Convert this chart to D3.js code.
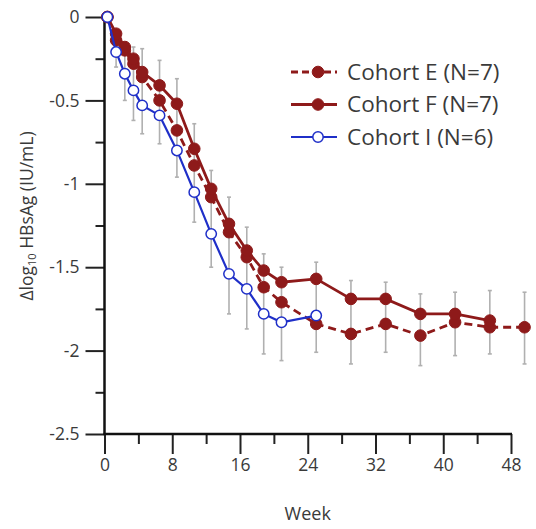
<!DOCTYPE html>
<html><head><meta charset="utf-8">
<script src="https://cdnjs.cloudflare.com/ajax/libs/d3/7.8.5/d3.min.js"></script>
<style>body{margin:0;background:#fff}svg{display:block}</style>
</head><body>
<svg id="c" width="536" height="529"></svg>
<script>
// x positions (weeks, as read against the axis)
const weeks = [0.34,1.37,2.4,3.42,4.45,6.5,8.55,10.6,12.6,14.7,16.8,18.8,20.9,25.0,29.1,33.2,37.3,41.4,45.5,49.6];
const cohortE = [0,-0.14,-0.20,-0.28,-0.36,-0.50,-0.68,-0.89,-1.08,-1.29,-1.44,-1.62,-1.71,-1.84,-1.90,-1.84,-1.91,-1.83,-1.86,-1.86];
const cohortF = [0,-0.10,-0.18,-0.25,-0.33,-0.41,-0.52,-0.79,-1.03,-1.24,-1.40,-1.52,-1.59,-1.57,-1.69,-1.69,-1.78,-1.78,-1.82];
const cohortI = [0,-0.21,-0.34,-0.44,-0.53,-0.59,-0.80,-1.05,-1.30,-1.54,-1.63,-1.78,-1.83,-1.79];
// error bars (from week index 1)
const errHigh = [-0.14,-0.15,-0.18,-0.19,-0.26,-0.37,-0.64,-0.92,-1.08,-1.26,-1.42,-1.50,-1.47,-1.58,-1.59,-1.66,-1.65,-1.64,-1.65];
const errLow  = [-0.30,-0.50,-0.62,-0.70,-0.76,-0.96,-1.23,-1.50,-1.78,-1.87,-2.02,-2.06,-2.01,-2.08,-2.01,-2.09,-2.03,-2.02,-2.08];
const xTicks = [0,8,16,24,32,40,48];
const yTicks = [0,-0.5,-1,-1.5,-2,-2.5];
const legendLabels = ["Cohort E (N=7)","Cohort F (N=7)","Cohort I (N=6)"];

const svg = d3.select("#c");
const x = d3.scaleLinear().domain([0,48]).range([104.5,511]);
const y = d3.scaleLinear().domain([0,-2.5]).range([17,434]);
const red = "#8e1a1a", blue = "#1f2fc8", txt = "#3a3a3a";
const font = "'Open Sans', sans-serif";

// error bars
const eb = svg.append("g").attr("stroke","#b0b0b0").attr("stroke-width",1.6);
errHigh.forEach((h,i)=>{
  const xx = x(weeks[i+1]);
  eb.append("line").attr("x1",xx).attr("x2",xx).attr("y1",y(h)).attr("y2",y(errLow[i]));
  eb.append("line").attr("x1",xx-2).attr("x2",xx+2).attr("y1",y(h)).attr("y2",y(h));
  eb.append("line").attr("x1",xx-2).attr("x2",xx+2).attr("y1",y(errLow[i])).attr("y2",y(errLow[i]));
});

// axes
const yAxis = svg.append("g").attr("transform","translate(104.5,0)")
  .call(d3.axisLeft(y).tickValues(yTicks).tickFormat(d=>d3.format("")(d).replace("−","-")).tickSize(19).tickPadding(6));
const yMinor = svg.append("g").attr("transform","translate(104.5,0)")
  .call(d3.axisLeft(y).tickValues([-0.25,-0.75,-1.25,-1.75,-2.25]).tickFormat("").tickSize(9));
const xAxis = svg.append("g").attr("transform","translate(0,434)")
  .call(d3.axisBottom(x).tickValues(xTicks).tickSize(20).tickPadding(5));
const xMinor = svg.append("g").attr("transform","translate(0,434)")
  .call(d3.axisBottom(x).tickValues([4,12,20,28,36,44]).tickFormat("").tickSize(10));
[yAxis,yMinor,xAxis,xMinor].forEach(g=>{
  g.select(".domain").remove();
  g.selectAll(".tick line").attr("stroke","#222").attr("stroke-width",2);
  g.selectAll("text").attr("font-family",font).attr("font-size",17.5).attr("fill",txt);
});
svg.append("line").attr("x1",104.5).attr("x2",104.5).attr("y1",y(0)).attr("y2",435).attr("stroke","#111").attr("stroke-width",2.5);
svg.append("line").attr("x1",103.5).attr("x2",x(48)+1).attr("y1",434).attr("y2",434).attr("stroke","#111").attr("stroke-width",2.5);

// axis titles
svg.append("text").attr("x",x(24)).attr("y",520).attr("text-anchor","middle")
  .attr("font-family",font).attr("font-size",18).attr("fill",txt).text("Week");
const yt = svg.append("text").attr("transform","translate(33,216) rotate(-90)").attr("text-anchor","middle")
  .attr("font-family",font).attr("font-size",17.5).attr("fill",txt);
yt.append("tspan").text("Δlog");
yt.append("tspan").attr("font-size",11).attr("dy",3).text("10");
yt.append("tspan").attr("dy",-3).text(" HBsAg (IU/mL)");

// series
const line = d3.line().x(d=>x(d[0])).y(d=>y(d[1]));
function series(vals, color, dash, width, open){
  const pts = vals.map((v,i)=>[weeks[i],v]);
  svg.append("path").attr("d",line(pts)).attr("fill","none").attr("stroke",color)
    .attr("stroke-width",width).attr("stroke-dasharray",dash);
  svg.append("g").selectAll("circle").data(pts).join("circle")
    .attr("cx",d=>x(d[0])).attr("cy",d=>y(d[1])).attr("r",open?5.2:5.8)
    .attr("fill",open?"#fff":color).attr("stroke",color).attr("stroke-width",open?1.5:1);
}
series(cohortE, red, "8,5", 2.8, false);
series(cohortF, red, null, 2.8, false);
series(cohortI, blue, null, 2.2, true);

// legend
const styles = [{c:red,d:"7,4",w:2.8,o:false},{c:red,d:null,w:2.8,o:false},{c:blue,d:null,w:2,o:true}];
legendLabels.forEach((lab,i)=>{
  const ly = 72 + i*32.5;
  const s = styles[i];
  svg.append("line").attr("x1",291).attr("x2",337).attr("y1",ly).attr("y2",ly)
    .attr("stroke",s.c).attr("stroke-width",s.w).attr("stroke-dasharray",s.d);
  svg.append("circle").attr("cx",318).attr("cy",ly).attr("r",s.o?5.2:5.8)
    .attr("fill",s.o?"#fff":s.c).attr("stroke",s.c).attr("stroke-width",s.o?1.5:1);
  svg.append("text").attr("x",347).attr("y",ly).attr("dy","0.35em")
    .attr("font-family",font).attr("font-size",22.5).attr("fill",txt).text(lab);
});
</script>
</body></html>
